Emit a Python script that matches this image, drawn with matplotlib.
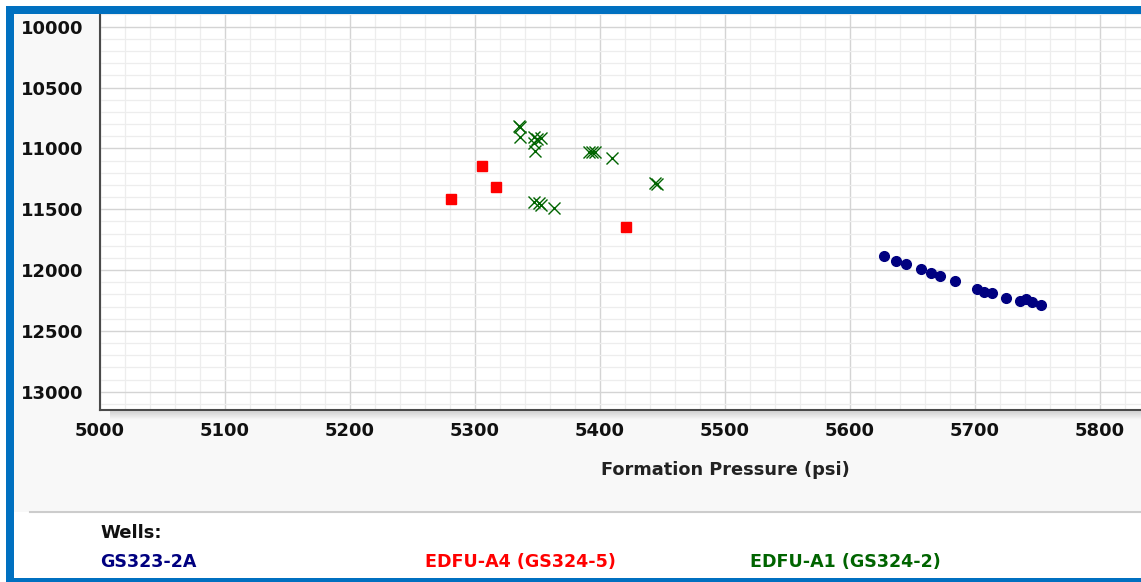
import numpy as np
import matplotlib
matplotlib.use("Agg")
import matplotlib.pyplot as plt
from matplotlib.patches import Rectangle
from matplotlib.ticker import MultipleLocator

# well data: formation pressure (psi) vs depth (ft)
gs323_p = [5627, 5637, 5645, 5657, 5665, 5672, 5684, 5702, 5707, 5714, 5725, 5736, 5741, 5746, 5753]
gs323_d = [11885, 11925, 11950, 11995, 12022, 12052, 12090, 12152, 12178, 12190, 12228, 12255, 12240, 12265, 12290]

edfu_a4_p = [5306, 5317, 5281, 5421]
edfu_a4_d = [11142, 11320, 11419, 11646]

edfu_a1_p = [5335, 5336, 5336, 5347, 5350, 5353, 5347, 5348, 5391, 5394, 5396, 5410, 5444, 5446, 5347, 5351, 5353, 5363]
edfu_a1_d = [10820, 10828, 10904, 10906, 10923, 10914, 10956, 11023, 11027, 11027, 11030, 11082, 11285, 11297, 11438, 11452, 11465, 11487]

well_names = ["GS323-2A", "EDFU-A4 (GS324-5)", "EDFU-A1 (GS324-2)"]
well_colors = ["#000080", "#ff0000", "#006400"]

W, H = 1141, 582
fig = plt.figure(figsize=(W / 100, H / 100), dpi=100)
fig.patch.set_facecolor("white")


def px_rect(x0, y0, x1, y1, color, z=0):
    # rectangle given in image pixels (top-left origin)
    r = Rectangle((x0 / W, 1 - y1 / H), (x1 - x0) / W, (y1 - y0) / H,
                  transform=fig.transFigure, facecolor=color, edgecolor="none", zorder=z)
    fig.add_artist(r)


# light grey chart area above the legend
px_rect(14, 14, W, 512, "#f8f8f8", z=-10)

ax = fig.add_axes([100 / W, 1 - 410 / H, 1 - 100 / W, (410 - 14) / H])
ax.set_facecolor("white")

ax.plot(gs323_p, gs323_d, "o", color=well_colors[0], markersize=7, zorder=3)
ax.plot(edfu_a4_p, edfu_a4_d, "s", color=well_colors[1], markersize=7, zorder=3)
ax.plot(edfu_a1_p, edfu_a1_d, "x", color=well_colors[2], markersize=8, markeredgewidth=1.0, zorder=3)

ax.set_xlim(5000, 5833)
ax.set_ylim(13150, 9896)

ax.xaxis.set_major_locator(MultipleLocator(100))
ax.xaxis.set_minor_locator(MultipleLocator(20))
ax.yaxis.set_major_locator(MultipleLocator(500))
ax.yaxis.set_minor_locator(MultipleLocator(100))
ax.grid(which="major", color="#d4d4d4", linewidth=1.0, zorder=0)
ax.grid(which="minor", color="#ededed", linewidth=0.9, zorder=0)
ax.set_axisbelow(True)

ax.tick_params(which="both", length=0)
ax.tick_params(axis="y", pad=12, labelsize=13)
ax.tick_params(axis="x", pad=9, labelsize=13)
for lab in ax.get_xticklabels() + ax.get_yticklabels():
    lab.set_fontweight("bold")
    lab.set_color("#111111")

for s in ["top", "right"]:
    ax.spines[s].set_visible(False)
for s in ["left", "bottom"]:
    ax.spines[s].set_color("#4a4a4a")
    ax.spines[s].set_linewidth(1.5)

# soft shadow under the bottom axis line
sh = fig.add_axes([110 / W, 1 - 420 / H, 1 - 110 / W, 9 / H])
grad = np.linspace(0.82, 0.975, 20).reshape(-1, 1)
sh.imshow(grad, aspect="auto", cmap="gray", vmin=0, vmax=1, extent=[0, 1, 0, 1])
sh.set_axis_off()

fig.text(725 / W, 1 - 470 / H, "Formation Pressure (psi)", ha="center", va="center",
         fontsize=12.8, fontweight="bold", color="#222222")

# separator and legend
fig.add_artist(plt.Line2D([30 / W, 1], [1 - 512 / H, 1 - 512 / H], transform=fig.transFigure,
                          color="#cccccc", linewidth=1.5))
fig.text(100 / W, 1 - 533 / H, "Wells:", ha="left", va="center",
         fontsize=13, fontweight="bold", color="#111111")
for name, col, xp in zip(well_names, well_colors, [100, 425, 750]):
    fig.text(xp / W, 1 - 562 / H, name, ha="left", va="center",
             fontsize=12.6, fontweight="bold", color=col)

# blue frame
blue = "#0070c0"
px_rect(6, 6, W, 14, blue, z=5)
px_rect(6, 6, 14, H, blue, z=5)
px_rect(6, 578, W, H, blue, z=5)

fig.savefig("out.png", dpi=100, facecolor=fig.get_facecolor())
